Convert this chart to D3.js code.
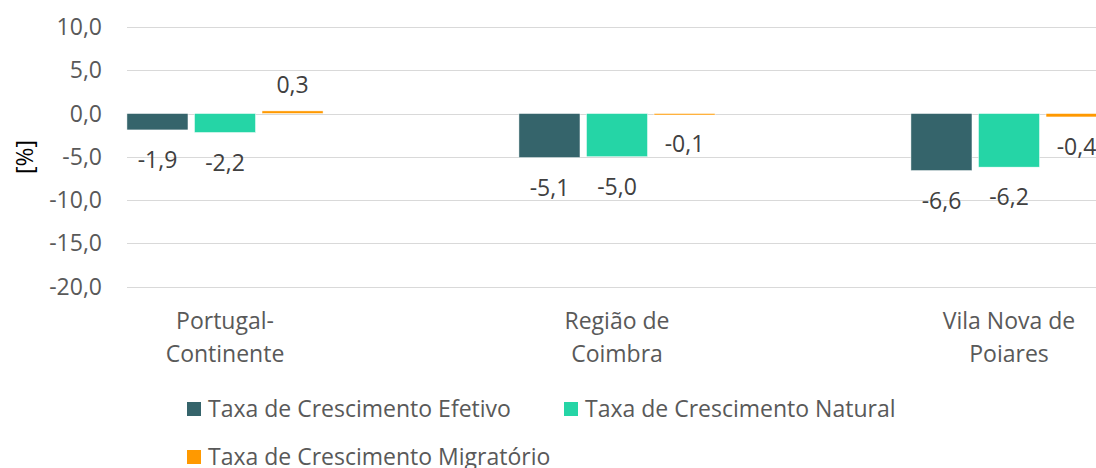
<!DOCTYPE html>
<html lang="pt">
<head>
  <meta charset="utf-8">
  <title>Taxas de crescimento</title>
  <script src="https://d3js.org/d3.v7.min.js"></script>
  <style>
    body { margin: 0; background: #fff; }
    text { font-family: "Open Sans", "Noto Sans", sans-serif; }
  </style>
</head>
<body>
<script>
// dados
var categorias = [["Portugal-", "Continente"], ["Região de", "Coimbra"], ["Vila Nova de", "Poiares"]];
var series = ["Taxa de Crescimento Efetivo", "Taxa de Crescimento Natural", "Taxa de Crescimento Migratório"];
var efetivo = [-1.9, -5.1, -6.6];
var natural = [-2.2, -5.0, -6.2];
var migratorio = [0.3, -0.1, -0.4];
var ticksY = [-20, -15, -10, -5, 0, 5, 10];
var cores = ["#35646b", "#25d5a6", "#ff9900"];

var width = 1096, height = 468;
var svg = d3.select("body").append("svg")
    .attr("width", width)
    .attr("height", height);

var nomes = categorias.map(function(c){ return c.join(" "); });
var valores = [efetivo, natural, migratorio];

var x0 = d3.scaleBand().domain(nomes).range([29, 29 + 3 * 392]);
var x1 = d3.scaleBand().domain(series).range([0, x0.bandwidth()])
    .paddingInner(0.096).paddingOuter(1.45);
var y = d3.scaleLinear().domain([-20, 10]).range([286.5, 27]);

var fmt = function(v){ return d3.format(".1f")(v).replace(".", ",").replace("\u2212", "-"); };
var fs = 23;

// grelha
var plotLeft = 127;
svg.append("g").selectAll("line").data(ticksY).enter().append("line")
    .attr("x1", plotLeft).attr("x2", width)
    .attr("y1", function(d){ return Math.round(y(d)) + 0.5; })
    .attr("y2", function(d){ return Math.round(y(d)) + 0.5; })
    .attr("stroke", "#d9d9d9").attr("stroke-width", 1);

// eixo y
svg.append("g").selectAll("text").data(ticksY).enter().append("text")
    .attr("x", 102).attr("y", function(d){ return y(d) + 8; })
    .attr("text-anchor", "end")
    .attr("font-size", fs).attr("fill", "#595959")
    .text(fmt);

svg.append("text")
    .attr("transform", "translate(33,157) rotate(-90)")
    .attr("text-anchor", "middle")
    .attr("font-size", fs).attr("fill", "#000")
    .text("[%]");

// barras
var dados = [];
nomes.forEach(function(n, i){
  series.forEach(function(s, j){
    dados.push({cat: n, serie: s, v: valores[j][i], j: j});
  });
});

var barras = svg.append("g");
barras.selectAll("rect").data(dados).enter().append("rect")
    .attr("x", function(d){ return x0(d.cat) + x1(d.serie); })
    .attr("width", x1.bandwidth())
    .attr("y", function(d){ return y(Math.max(0, d.v)); })
    .attr("height", function(d){ return Math.max(1.5, Math.abs(y(d.v) - y(0))); })
    .attr("fill", function(d){ return cores[d.j]; })
    .attr("stroke", "#fff").attr("stroke-width", 0.5);

barras.selectAll("text").data(dados).enter().append("text")
    .attr("x", function(d){ return x0(d.cat) + x1(d.serie) + x1.bandwidth() / 2; })
    .attr("y", function(d){ return d.v >= 0 ? y(d.v) - 18 : y(d.v) + 38; })
    .attr("text-anchor", "middle")
    .attr("font-size", fs).attr("fill", "#404040")
    .text(function(d){ return fmt(d.v); });

// categorias
var cat = svg.append("g").selectAll("text").data(categorias).enter().append("text")
    .attr("text-anchor", "middle")
    .attr("font-size", fs).attr("fill", "#595959");
cat.selectAll("tspan").data(function(d, i){ return d.map(function(t){ return {t: t, i: i}; }); })
  .enter().append("tspan")
    .attr("x", function(d){ return x0(nomes[d.i]) + x0.bandwidth() / 2; })
    .attr("y", function(d, k){ return 329 + k * 32.5; })
    .text(function(d){ return d.t; });

// legenda
var legPos = [[187, 402], [564, 402], [187, 450]];
var leg = svg.append("g").selectAll("g").data(series).enter().append("g")
    .attr("transform", function(d, i){ return "translate(" + legPos[i][0] + "," + legPos[i][1] + ")"; });
leg.append("rect").attr("width", 14).attr("height", 14)
    .attr("fill", function(d, i){ return cores[i]; });
leg.append("text").attr("x", 21).attr("y", 14.5)
    .attr("font-size", fs).attr("fill", "#595959")
    .text(function(d){ return d; });
</script>
</body>
</html>
